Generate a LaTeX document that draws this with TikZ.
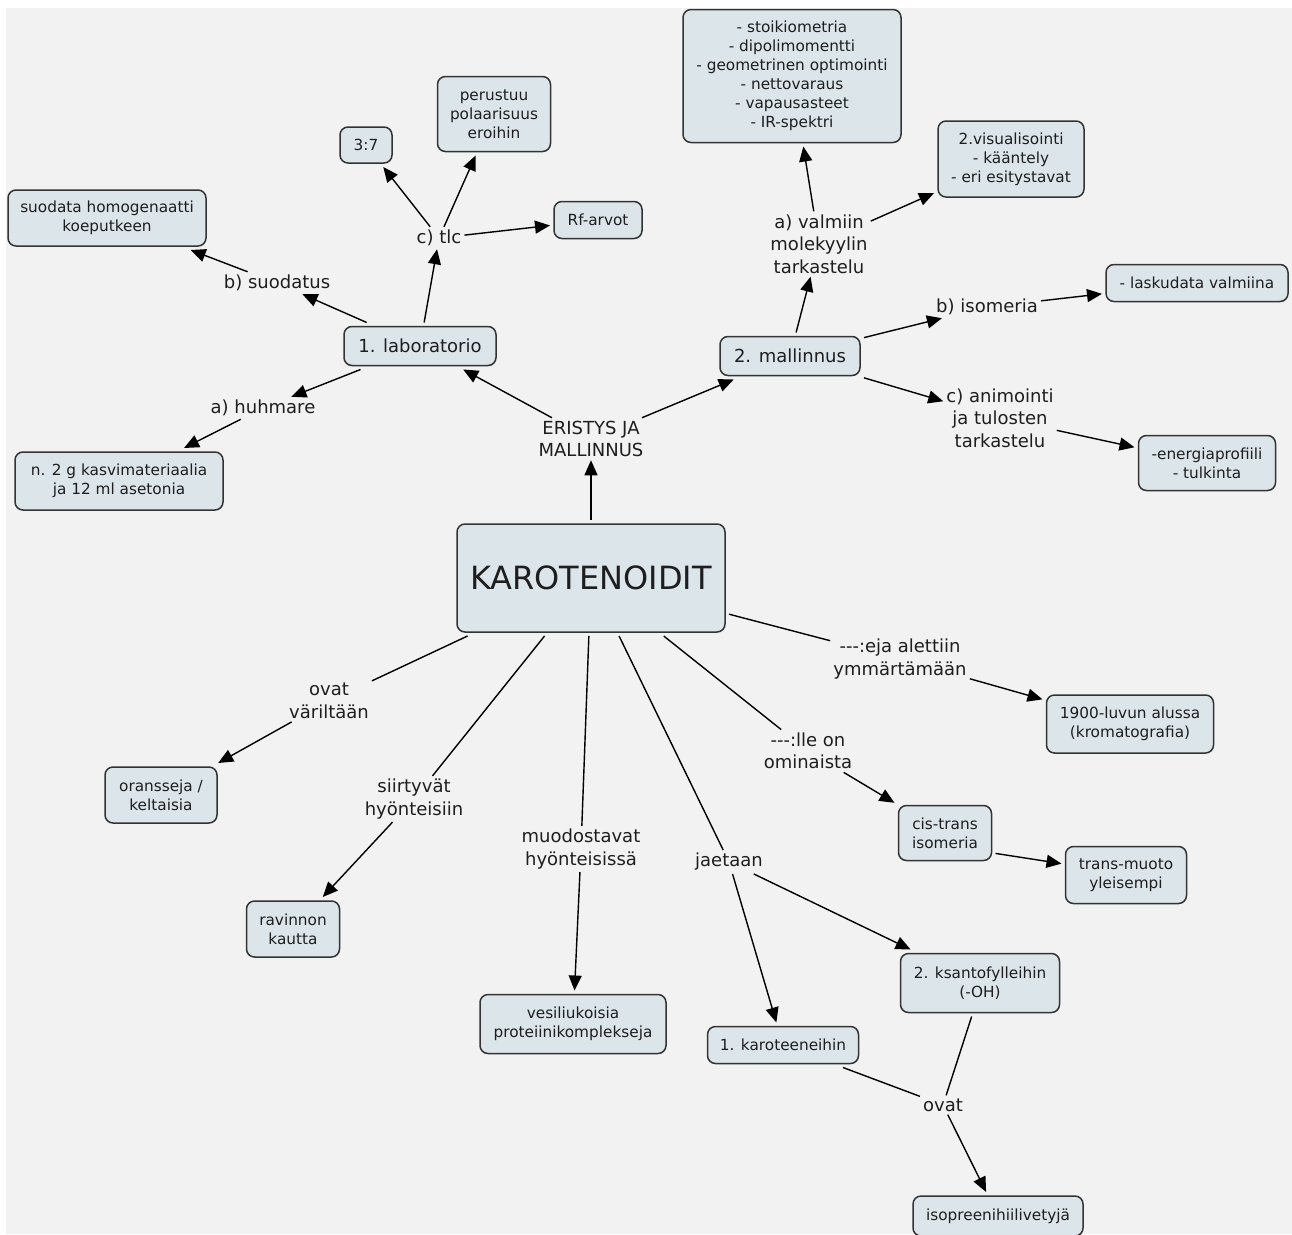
\documentclass[tikz,border=0pt]{standalone}
\usepackage{fontspec}
\setmainfont{DejaVu Sans}
\usetikzlibrary{arrows.meta}
\definecolor{bg}{HTML}{F2F2F2}
\definecolor{boxfill}{HTML}{DCE5EA}
\definecolor{edge}{HTML}{333333}
\definecolor{ink}{HTML}{1E1E1E}
\begin{document}
\begin{tikzpicture}[x=1pt,y=-1pt,
  box/.style={draw=edge, fill=boxfill, line width=1.5pt, rounded corners=8pt, align=center,
    inner sep=0pt, outer sep=4pt, text=ink, font=\fontsize{15.3}{19}\selectfont},
  lbl/.style={align=center, inner sep=3pt, text=ink, font=\fontsize{18}{22.5}\selectfont},
  conn/.style={line width=1.4pt, draw=black},
  arr/.style={conn, -{Triangle[length=15pt,width=13pt]}},
]
\useasboundingbox (0,0) rectangle (1292,1234);
\fill[white] (0,0) rectangle (1292,1234);
\fill[bg] (6,8) rectangle (1292,1234);

% boxes
\node[box, minimum width=198, minimum height=56] (suod) at (107,218) {suodata homogenaatti\\koeputkeen};
\node[box, minimum width=52, minimum height=36] (r37) at (366,145) {3:7};
\node[box, minimum width=113, minimum height=75] (perus) at (494,114) {perustuu\\polaarisuus\\eroihin};
\node[box, minimum width=88, minimum height=37] (rf) at (598,220) {Rf-arvot};
\node[box, minimum width=152, minimum height=39, font=\fontsize{18}{22}\selectfont] (lab) at (420,346) {1. laboratorio};
\node[box, minimum width=208, minimum height=58] (n2g) at (119,481) {n. 2 g kasvimateriaalia\\ja 12 ml asetonia};
\node[box, minimum width=268, minimum height=108, font=\fontsize{32}{36}\selectfont] (karot) at (591,578) {KAROTENOIDIT};
\node[box, minimum width=218, minimum height=133] (stoik) at (792,76) {- stoikiometria\\- dipolimomentti\\- geometrinen optimointi\\- nettovaraus\\- vapausasteet\\- IR-spektri};
\node[box, minimum width=146, minimum height=76] (vis) at (1011,159) {2.visualisointi\\- kääntely\\- eri esitystavat};
\node[box, minimum width=140, minimum height=39, font=\fontsize{18}{22}\selectfont] (mall) at (790,356) {2. mallinnus};
\node[box, minimum width=182, minimum height=37] (lask) at (1197,283) {- laskudata valmiina};
\node[box, minimum width=137, minimum height=55] (ener) at (1207,463) {-energiaprofiili\\- tulkinta};
\node[box, minimum width=112, minimum height=56] (oran) at (161,795) {oransseja /\\keltaisia};
\node[box, minimum width=93, minimum height=56] (ravi) at (293,929) {ravinnon\\kautta};
\node[box, minimum width=186, minimum height=59] (vesi) at (573,1024) {vesiliukoisia\\proteiinikomplekseja};
\node[box, minimum width=151, minimum height=37] (kar1) at (783,1045) {1. karoteeneihin};
\node[box, minimum width=159, minimum height=59] (ksan) at (980,983) {2. ksantofylleihin\\(-OH)};
\node[box, minimum width=170, minimum height=40] (iso) at (998,1216) {isopreenihiilivetyjä};
\node[box, minimum width=167, minimum height=58] (v1900) at (1130,724) {1900-luvun alussa\\(kromatografia)};
\node[box, minimum width=93, minimum height=55] (cis) at (945,833) {cis-trans\\isomeria};
\node[box, minimum width=121, minimum height=57] (trans) at (1126,875) {trans-muoto\\yleisempi};

% labels
\node[lbl] (eris) at (591,439) {ERISTYS JA\\MALLINNUS};
\node[lbl] (huh) at (263,408) {a) huhmare};
\node[lbl] (suo) at (277,283) {b) suodatus};
\node[lbl] (tlc) at (439,238) {c) tlc};
\node[lbl] (valm) at (819,244) {a) valmiin\\molekyylin\\tarkastelu};
\node[lbl] (isom) at (987,307) {b) isomeria};
\node[lbl] (anim) at (1000,418) {c) animointi\\ja tulosten\\tarkastelu};
\node[lbl] (ovv) at (329,701) {ovat\\väriltään};
\node[lbl] (siir) at (414,799) {siirtyvät\\hyönteisiin};
\node[lbl] (muod) at (581,849) {muodostavat\\hyönteisissä};
\node[lbl] (jaet) at (729,862) {jaetaan};
\node[lbl] (ovat) at (943,1105) {ovat};
\node[lbl] (eja) at (900,659) {-{}-{}-:eja alettiin\\ymmärtämään};
\node[lbl] (lle) at (808,751) {-{}-{}-:lle on\\ominaista};

% connectors
\draw[arr] (karot) -- (eris);
\draw[arr] (eris) -- (lab);
\draw[arr] (eris) -- (mall);
\draw[arr] (lab) -- (huh);
\draw[arr] (huh) -- (n2g);
\draw[arr] (lab) -- (suo);
\draw[arr] (suo) -- (suod);
\draw[arr] (lab) -- (tlc);
\draw[arr] (tlc) -- (r37);
\draw[arr] (tlc) -- (perus);
\draw[arr] (tlc) -- (rf);
\draw[arr] (mall) -- (valm);
\draw[arr] (valm) -- (stoik);
\draw[arr] (valm) -- (vis);
\draw[arr] (mall) -- (isom);
\draw[arr] (isom) -- (lask);
\draw[arr] (mall) -- (anim);
\draw[arr] (anim) -- (ener);
\draw[conn] (karot) -- (ovv);
\draw[arr] (ovv) -- (oran);
\draw[conn] (karot) -- (siir);
\draw[arr] (siir) -- (ravi);
\draw[conn] (karot) -- (muod);
\draw[arr] (muod) -- (vesi);
\draw[conn] (karot) -- (jaet);
\draw[arr] (jaet) -- (kar1);
\draw[arr] (jaet) -- (ksan);
\draw[conn] (karot) -- (lle);
\draw[arr] (lle) -- (cis);
\draw[arr] (cis.-22) -- (trans.170);
\draw[conn] (karot) -- (eja);
\draw[arr] (eja) -- (v1900);
\draw[conn] (kar1) -- (ovat);
\draw[conn] (ksan.-104) -- (ovat);
\draw[arr] (ovat) -- (iso);
\end{tikzpicture}
\end{document}
